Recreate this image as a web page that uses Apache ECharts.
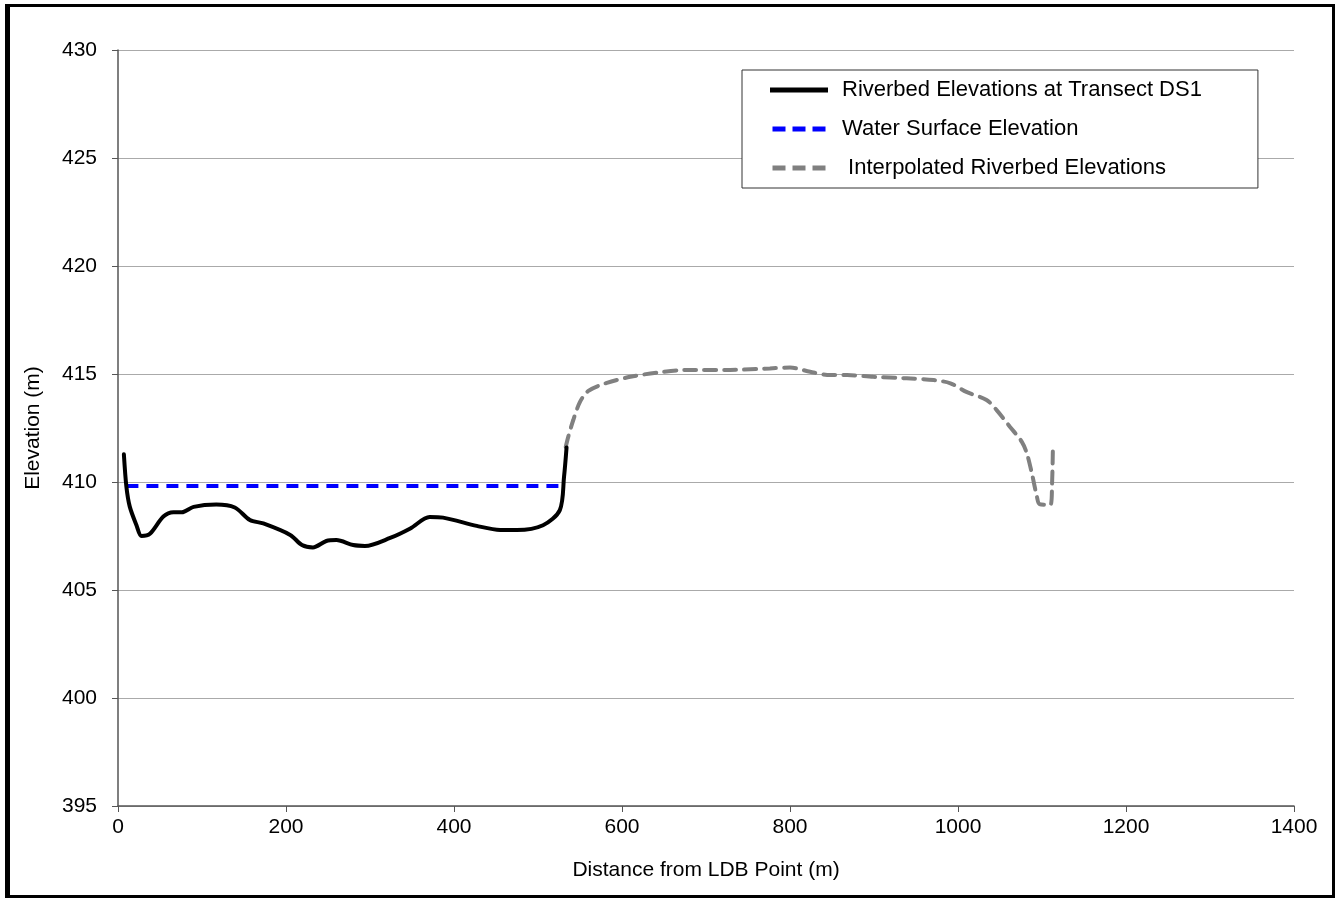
<!DOCTYPE html>
<html>
<head>
<meta charset="utf-8">
<script src="https://cdn.jsdelivr.net/npm/echarts@6/dist/echarts.min.js"></script>
<style>
html,body{margin:0;padding:0;background:#fff;}
#frame{position:absolute;left:5px;top:4px;width:1330px;height:894px;border:3px solid #000;border-left-width:5px;box-sizing:border-box;}
#chart{position:absolute;left:0;top:0;width:1341px;height:901px;}
</style>
</head>
<body>
<div id="frame"></div>
<div id="chart"></div>
<script>
// Riverbed elevations at transect DS1 [distance m, elevation m]
const riverbedX = [7, 10, 14, 22, 28, 38, 54, 66, 76, 90, 117, 139, 157, 173, 205, 219, 232, 248, 260, 280, 294, 324, 348, 371, 387, 427, 455, 475, 506, 526, 531, 534];
const riverbedY = [411.28, 409.78, 408.86, 408.0, 407.5, 407.6, 408.4, 408.6, 408.6, 408.85, 408.96, 408.82, 408.24, 408.08, 407.55, 407.08, 406.97, 407.27, 407.31, 407.08, 407.04, 407.41, 407.85, 408.38, 408.35, 407.97, 407.78, 407.78, 408.0, 408.7, 410.24, 411.6];
// Water surface elevation
const waterX = [10, 526];
const waterY = [409.81, 409.81];
// Interpolated riverbed elevations
const interpX = [533, 536, 542, 550, 560, 582, 610, 641, 677, 729, 776, 800, 824, 848, 868, 899, 939, 971, 991, 1010, 1034, 1046, 1062, 1076, 1082, 1088, 1094, 1097, 1110, 1112, 1113];
const interpY = [411.62, 412.09, 412.87, 413.71, 414.22, 414.59, 414.87, 415.06, 415.19, 415.19, 415.26, 415.3, 415.1, 414.95, 414.95, 414.87, 414.8, 414.72, 414.57, 414.17, 413.8, 413.33, 412.55, 411.86, 411.32, 410.39, 409.31, 408.98, 408.94, 409.93, 411.7];

const pairs = (xs, ys) => xs.map((x, i) => [x, ys[i]]);

const chart = echarts.init(document.getElementById('chart'), null, {renderer: 'canvas'});
const font = 'Arial, "Liberation Sans", sans-serif';
const solidIcon = 'path://M0,0 L58,0 L58,5 L0,5 Z';
const dashIcon = 'path://M0,0 L13,0 L13,5 L0,5 Z M20,0 L33,0 L33,5 L20,5 Z M40,0 L53,0 L53,5 L40,5 Z';
chart.setOption({
  animation: false,
  backgroundColor: 'transparent',
  grid: {left: 118, top: 50, right: 47, bottom: 95, containLabel: false},
  xAxis: {
    type: 'value', min: 0, max: 1400, interval: 200,
    name: 'Distance from LDB Point (m)', nameLocation: 'middle', nameGap: 54,
    nameTextStyle: {fontFamily: font, fontSize: 21, color: '#000'},
    axisLine: {show: true, onZero: false, lineStyle: {color: '#555', width: 1.5}},
    axisTick: {show: true, length: 6, lineStyle: {color: '#555'}},
    axisLabel: {fontFamily: font, fontSize: 21, color: '#000', margin: 11, formatter: v => String(v)},
    splitLine: {show: false}
  },
  yAxis: {
    type: 'value', min: 395, max: 430, interval: 5,
    name: 'Elevation (m)', nameLocation: 'middle', nameGap: 74,
    nameTextStyle: {fontFamily: font, fontSize: 21, color: '#000'},
    axisLine: {show: true, lineStyle: {color: '#555', width: 1.5}},
    axisTick: {show: true, length: 6, lineStyle: {color: '#555'}},
    axisLabel: {fontFamily: font, fontSize: 21, color: '#000', margin: 21, formatter: v => String(v)},
    splitLine: {show: true, lineStyle: {color: '#aaa', width: 1}}
  },
  legend: {
    orient: 'vertical', left: 742, top: 70,
    backgroundColor: '#fff', borderColor: '#333', borderWidth: 1,
    padding: [9, 56, 9, 28],
    itemWidth: 58, itemHeight: 5, itemGap: 17,
    textStyle: {fontFamily: font, fontSize: 22, color: '#000', padding: [0, 0, 0, 9]},
    data: [
      {name: 'Riverbed Elevations at Transect DS1', icon: solidIcon, itemStyle: {color: '#000'}},
      {name: 'Water Surface Elevation', icon: dashIcon, itemStyle: {color: '#0000ff'}},
      {name: ' Interpolated Riverbed Elevations', icon: dashIcon, itemStyle: {color: '#808080'}}
    ]
  },
  series: [
    {
      name: 'Water Surface Elevation', type: 'line', data: pairs(waterX, waterY),
      showSymbol: false, symbol: 'none', z: 3,
      lineStyle: {color: '#0000ff', width: 4, type: [12, 8]}, itemStyle: {color: '#0000ff'}
    },
    {
      name: ' Interpolated Riverbed Elevations', type: 'line', data: pairs(interpX, interpY),
      showSymbol: false, symbol: 'none', smooth: 0.3, z: 2,
      lineStyle: {color: '#808080', width: 4, type: [12, 8], cap: 'round'}, itemStyle: {color: '#808080'}
    },
    {
      name: 'Riverbed Elevations at Transect DS1', type: 'line', data: pairs(riverbedX, riverbedY),
      showSymbol: false, symbol: 'none', smooth: 0.3, z: 4,
      lineStyle: {color: '#000', width: 4, join: 'round', cap: 'round'}, itemStyle: {color: '#000'}
    }
  ]
});
</script>
</body>
</html>
